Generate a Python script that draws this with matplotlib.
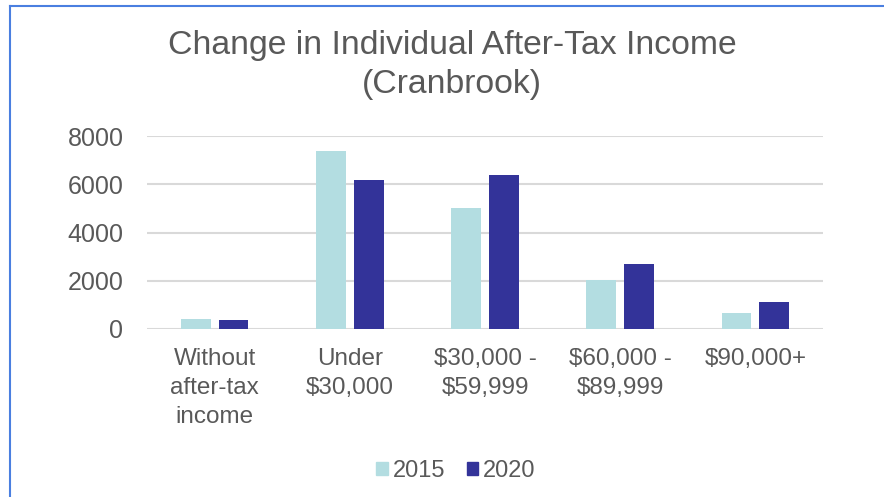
import matplotlib
matplotlib.use("Agg")
import matplotlib.pyplot as plt
import numpy as np
from matplotlib.lines import Line2D
from matplotlib.patches import Patch

categories = ["Without\nafter-tax\nincome", "Under\n$30,000", "$30,000 -\n$59,999", "$60,000 -\n$89,999", "$90,000+"]
values_2015 = [400, 7380, 5030, 2030, 650]
values_2020 = [380, 6160, 6380, 2680, 1130]
series_names = ["2015", "2020"]
yticks = [0, 2000, 4000, 6000, 8000]

c2015 = "#b3dde1"
c2020 = "#333399"
txt = "#595959"

plt.rcParams['font.family'] = ['Liberation Sans', 'DejaVu Sans']

fig = plt.figure(figsize=(8.84, 4.97), dpi=100)
ax = fig.add_axes([147/884, (497-329)/497, (823-147)/884, (329-136)/497])

x = np.arange(len(categories))
w = 0.22
off = 0.14
ax.bar(x - off, values_2015, width=w, color=c2015, label=series_names[0], zorder=3)
ax.bar(x + off, values_2020, width=w, color=c2020, label=series_names[1], zorder=3)

ax.set_xlim(-0.5, len(categories) - 0.5)
ax.set_ylim(0, 8000)
ax.set_yticks(yticks)
ax.set_yticklabels([str(v) for v in yticks], fontsize=18, color=txt)
ax.set_xticks(x)
ax.set_xticklabels(categories, fontsize=17.5, color=txt, linespacing=1.4)
ax.tick_params(axis='y', length=0, pad=17)
ax.tick_params(axis='x', length=0, pad=14)
ax.grid(axis='y', color="#d9d9d9", linewidth=1.5, zorder=0)
for s in ax.spines.values():
    s.set_visible(False)

fig.text(452/884, 1 - 46/497, "Change in Individual After-Tax Income", ha='center', va='center', fontsize=24.3, color=txt)
fig.text(452/884, 1 - 84/497, "(Cranbrook)", ha='center', va='center', fontsize=24.3, color=txt)

handles = [Patch(color=c2015), Patch(color=c2020)]
fig.legend(handles, series_names, loc='center', bbox_to_anchor=(456/884, 1 - 471/497), ncol=2, frameon=False,
           fontsize=17, handlelength=0.5, handleheight=0.5, handletextpad=0.2, columnspacing=0.9,
           labelcolor=txt)

border = "#4a7fe0"
fig.add_artist(Line2D([10/884, 10/884], [0, 1 - 6/497], color=border, linewidth=1.5, transform=fig.transFigure))
fig.add_artist(Line2D([10/884, 1], [1 - 6/497, 1 - 6/497], color=border, linewidth=1.5, transform=fig.transFigure))

fig.savefig("out.png", dpi=100)
